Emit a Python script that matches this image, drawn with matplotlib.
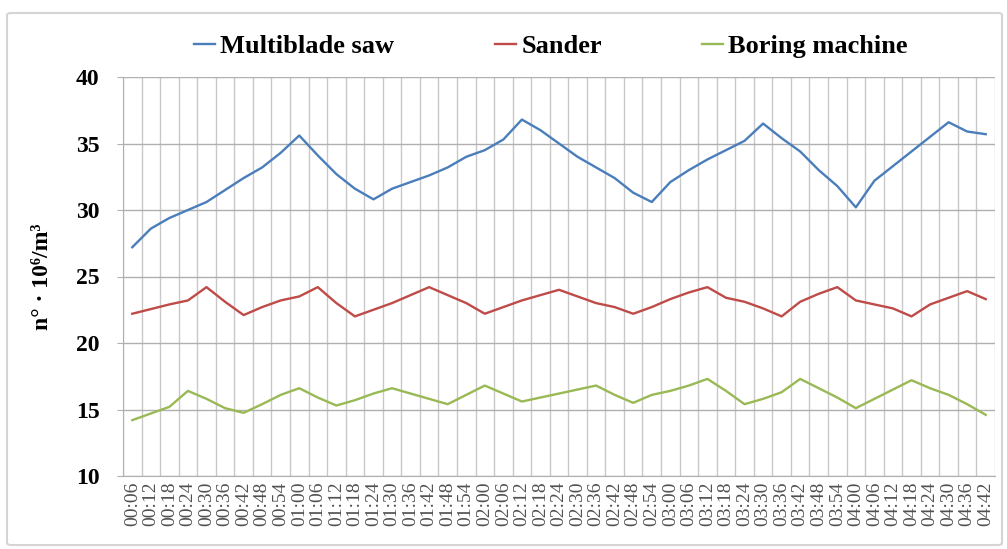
import numpy as np
import matplotlib
matplotlib.use('Agg')
import matplotlib.pyplot as plt
from matplotlib.patches import FancyBboxPatch

# --- Data ---
times = ['00:06', '00:12', '00:18', '00:24', '00:30', '00:36', '00:42', '00:48', '00:54', '01:00',
         '01:06', '01:12', '01:18', '01:24', '01:30', '01:36', '01:42', '01:48', '01:54', '02:00',
         '02:06', '02:12', '02:18', '02:24', '02:30', '02:36', '02:42', '02:48', '02:54', '03:00',
         '03:06', '03:12', '03:18', '03:24', '03:30', '03:36', '03:42', '03:48', '03:54', '04:00',
         '04:06', '04:12', '04:18', '04:24', '04:30', '04:36', '04:42']

multiblade_saw = [27.2, 28.6, 29.4, 30.0, 30.6, 31.5, 32.4, 33.2, 34.3, 35.6,
                  34.1, 32.7, 31.6, 30.8, 31.6, 32.1, 32.6, 33.2, 34.0, 34.5,
                  35.3, 36.8, 36.0, 35.0, 34.0, 33.2, 32.4, 31.3, 30.6, 32.1,
                  33.0, 33.8, 34.5, 35.2, 36.5, 35.4, 34.4, 33.0, 31.8, 30.2,
                  32.2, 33.3, 34.4, 35.5, 36.6, 35.9, 35.7]

sander = [22.2, 22.55, 22.9, 23.2, 24.2, 23.1, 22.1, 22.7, 23.2, 23.5,
          24.2, 23.0, 22.0, 22.5, 23.0, 23.6, 24.2, 23.6, 23.0, 22.2,
          22.7, 23.2, 23.6, 24.0, 23.5, 23.0, 22.7, 22.2, 22.7, 23.3,
          23.8, 24.2, 23.4, 23.1, 22.6, 22.0, 23.1, 23.7, 24.2, 23.2,
          22.9, 22.6, 22.0, 22.9, 23.4, 23.9, 23.3]

boring_machine = [14.2, 14.7, 15.2, 16.4, 15.8, 15.1, 14.75, 15.4, 16.1, 16.6,
                  15.9, 15.3, 15.7, 16.2, 16.6, 16.2, 15.8, 15.4, 16.1, 16.8,
                  16.2, 15.6, 15.9, 16.2, 16.5, 16.8, 16.1, 15.5, 16.1, 16.4,
                  16.8, 17.3, 16.4, 15.4, 15.8, 16.3, 17.3, 16.6, 15.9, 15.1,
                  15.8, 16.5, 17.2, 16.6, 16.1, 15.4, 14.6]

series_names = ['Multiblade saw', 'Sander', 'Boring machine']
series_colors = ['#4A7EBB', '#BE4B48', '#98B954']
y_ticks = [10, 15, 20, 25, 30, 35, 40]

plt.rcParams['font.family'] = ['Liberation Serif', 'DejaVu Serif']

fig = plt.figure(figsize=(10.07, 5.49), dpi=100)

# outer chart frame
frame = FancyBboxPatch((7 / 1007, 4 / 549), 995 / 1007, 532 / 549,
                       boxstyle='round,pad=0,rounding_size=0.004',
                       transform=fig.transFigure, facecolor='none',
                       edgecolor='#d4d4d4', linewidth=1.5)
fig.patches.append(frame)

ax = fig.add_axes([123 / 1007, 73 / 549, 872 / 1007, 399 / 549])

x = np.arange(len(times))
for vals, name, col in zip([multiblade_saw, sander, boring_machine], series_names, series_colors):
    ax.plot(x, vals, color=col, lw=1.7, label=name, zorder=3)

ax.set_xlim(-0.5, len(times) - 0.5)
ax.set_ylim(10, 40)
ax.set_yticks(y_ticks)
ax.set_yticklabels([str(t) for t in y_ticks], fontsize=17, fontweight='bold')
ax.set_xticks(x)
ax.set_xticklabels(times, rotation=90, fontsize=14, color='#505050')

# Excel-like grid: vertical lines on category boundaries
ax.set_xticks(np.arange(-0.5, len(times), 1), minor=True)
ax.grid(True, which='minor', axis='x', color='#c8c8c8', lw=1)
ax.grid(True, which='major', axis='y', color='#b0b0b0', lw=1)
ax.tick_params(axis='x', which='both', length=0, pad=4)
ax.tick_params(axis='y', length=4, color='#b0b0b0', pad=13)
for s in ['top', 'right']:
    ax.spines[s].set_visible(False)
for s in ['left', 'bottom']:
    ax.spines[s].set_color('#b0b0b0')

ax.set_ylabel('n° · 10⁶/m³', fontsize=17, fontweight='bold', labelpad=16)

fig.legend(loc='center', bbox_to_anchor=(551 / 1007, 1 - 46 / 549), ncol=3, frameon=False,
           prop={'size': 19, 'weight': 'bold'}, handlelength=0.8, handletextpad=0.2,
           columnspacing=3.8)

fig.savefig('out.png', dpi=100)
